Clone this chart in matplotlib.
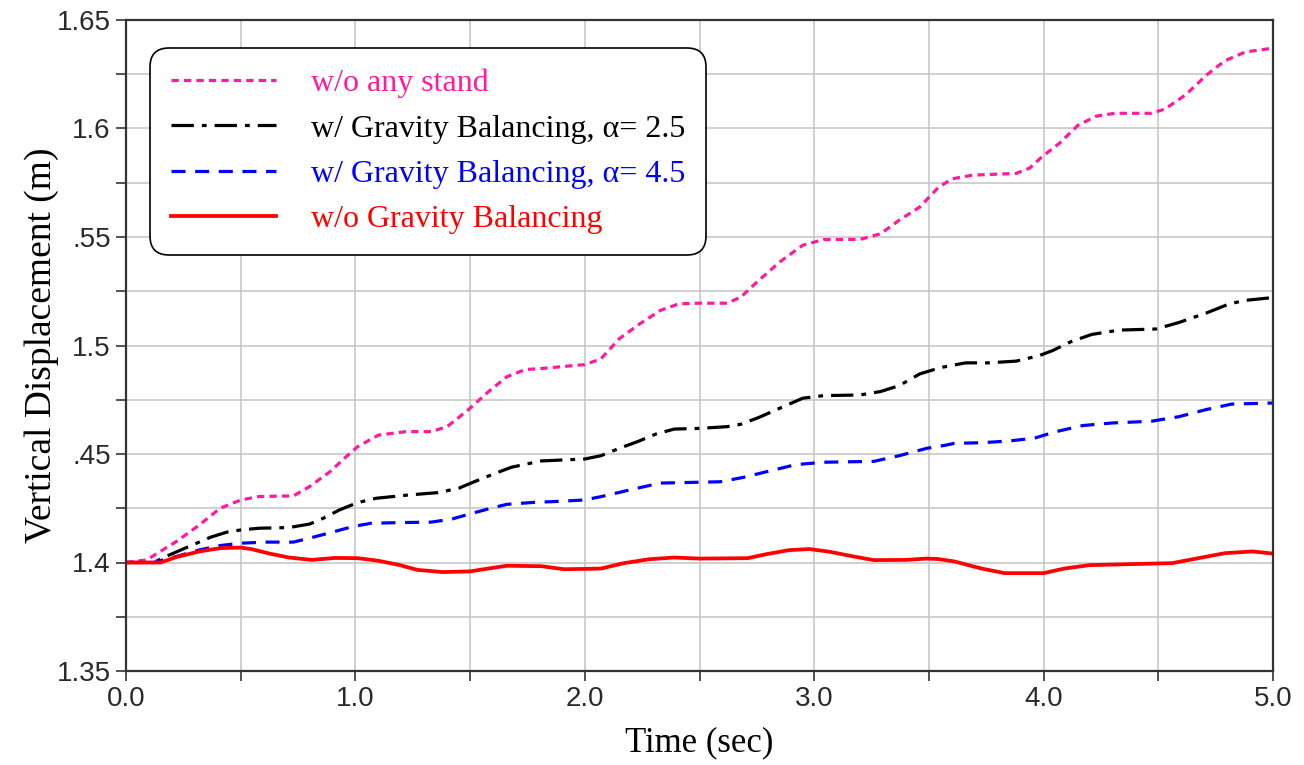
import matplotlib
matplotlib.use("Agg")
import matplotlib.pyplot as plt
from matplotlib.lines import Line2D

# time (s) / vertical displacement (m)
t_stand = [0.0, 0.09, 0.22, 0.32, 0.41, 0.50, 0.58, 0.73, 0.80, 0.89, 0.96, 1.01, 1.10, 1.22,
           1.33, 1.40, 1.49, 1.58, 1.66, 1.74, 1.81, 2.00, 2.07, 2.15, 2.24, 2.33, 2.41, 2.50,
           2.62, 2.68, 2.75, 2.85, 2.95, 3.04, 3.20, 3.29, 3.37, 3.46, 3.54, 3.60, 3.69, 3.88,
           3.94, 3.99, 4.07, 4.15, 4.23, 4.31, 4.47, 4.53, 4.62, 4.71, 4.79, 4.88, 5.00]
y_stand = [1.4000, 1.4012, 1.4097, 1.4173, 1.4250, 1.4288, 1.4304, 1.4307, 1.4350, 1.4419,
           1.4488, 1.4534, 1.4587, 1.4603, 1.4603, 1.4626, 1.4702, 1.4787, 1.4856, 1.4889,
           1.4894, 1.4912, 1.4938, 1.5031, 1.5100, 1.5162, 1.5192, 1.5195, 1.5195, 1.5223,
           1.5292, 1.5385, 1.5462, 1.5488, 1.5489, 1.5515, 1.5577, 1.5638, 1.5727, 1.5768,
           1.5785, 1.5793, 1.5818, 1.5867, 1.5933, 1.6015, 1.6057, 1.6070, 1.6070, 1.6090,
           1.6156, 1.6246, 1.6312, 1.6353, 1.6370]

t_a25 = [0.0, 0.12, 0.19, 0.29, 0.37, 0.44, 0.50, 0.58, 0.71, 0.80, 0.86, 0.93, 1.01, 1.09,
         1.23, 1.36, 1.45, 1.52, 1.61, 1.68, 1.81, 2.00, 2.07, 2.15, 2.23, 2.31, 2.39, 2.50,
         2.62, 2.68, 2.76, 2.85, 2.95, 3.04, 3.20, 3.29, 3.37, 3.46, 3.55, 3.66, 3.76, 3.88,
         3.98, 4.04, 4.12, 4.21, 4.33, 4.49, 4.59, 4.71, 4.81, 4.88, 5.00]
y_a25 = [1.4000, 1.4000, 1.4035, 1.4081, 1.4117, 1.4140, 1.4150, 1.4158, 1.4161, 1.4177,
         1.4204, 1.4242, 1.4276, 1.4296, 1.4311, 1.4322, 1.4342, 1.4373, 1.4411, 1.4439,
         1.4468, 1.4477, 1.4492, 1.4526, 1.4557, 1.4592, 1.4615, 1.4618, 1.4626, 1.4637,
         1.4669, 1.4711, 1.4757, 1.4769, 1.4772, 1.4788, 1.4815, 1.4869, 1.4898, 1.4920,
         1.4920, 1.4928, 1.4953, 1.4977, 1.5018, 1.5051, 1.5071, 1.5076, 1.5106, 1.5150,
         1.5192, 1.5208, 1.5221]

t_a45 = [0.0, 0.12, 0.22, 0.32, 0.41, 0.50, 0.61, 0.73, 0.81, 0.90, 0.99, 1.07, 1.20, 1.33,
         1.42, 1.50, 1.59, 1.66, 1.79, 1.85, 2.00, 2.09, 2.21, 2.33, 2.46, 2.59, 2.69, 2.81,
         2.92, 3.04, 3.26, 3.37, 3.49, 3.57, 3.61, 3.73, 3.85, 3.96, 4.05, 4.17, 4.30, 4.47,
         4.59, 4.71, 4.82, 5.00]
y_a45 = [1.4000, 1.4000, 1.4028, 1.4058, 1.4078, 1.4089, 1.4094, 1.4094, 1.4115, 1.4140,
         1.4166, 1.4181, 1.4184, 1.4186, 1.4200, 1.4224, 1.4250, 1.4268, 1.4278, 1.4280,
         1.4288, 1.4308, 1.4338, 1.4366, 1.4369, 1.4372, 1.4392, 1.4423, 1.4451, 1.4462,
         1.4466, 1.4492, 1.4526, 1.4540, 1.4549, 1.4552, 1.4560, 1.4573, 1.4602, 1.4631,
         1.4643, 1.4651, 1.4672, 1.4705, 1.4730, 1.4735]

t_nogb = [0.0, 0.15, 0.22, 0.32, 0.41, 0.50, 0.55, 0.63, 0.71, 0.81, 0.91, 1.01, 1.10, 1.19,
          1.27, 1.38, 1.50, 1.59, 1.66, 1.81, 1.91, 2.07, 2.17, 2.28, 2.39, 2.50, 2.71, 2.79,
          2.89, 2.98, 3.07, 3.17, 3.26, 3.40, 3.49, 3.54, 3.61, 3.73, 3.83, 4.00, 4.09, 4.20,
          4.36, 4.56, 4.68, 4.79, 4.91, 5.00]
y_nogb = [1.4000, 1.4000, 1.4025, 1.4051, 1.4066, 1.4069, 1.4061, 1.4040, 1.4023, 1.4012,
          1.4021, 1.4020, 1.4008, 1.3989, 1.3966, 1.3956, 1.3959, 1.3974, 1.3985, 1.3983,
          1.3969, 1.3972, 1.3997, 1.4015, 1.4023, 1.4018, 1.4020, 1.4038, 1.4057, 1.4062,
          1.4049, 1.4028, 1.4011, 1.4012, 1.4018, 1.4016, 1.4005, 1.3972, 1.3951, 1.3951,
          1.3972, 1.3988, 1.3992, 1.3997, 1.4021, 1.4043, 1.4051, 1.4041]

labels = ["w/o any stand",
          "w/ Gravity Balancing, \u03b1= 2.5",
          "w/ Gravity Balancing, \u03b1= 4.5",
          "w/o Gravity Balancing"]

x_ticks = [0, 1, 2, 3, 4, 5]
x_ticklabels = ["0.0", "1.0", "2.0", "3.0", "4.0", "5.0"]
y_ticks = [1.35, 1.40, 1.45, 1.50, 1.55, 1.60, 1.65]
y_ticklabels = ["1.35", "1.4", ".45", "1.5", ".55", "1.6", "1.65"]

pink = "#ff1aa0"
serif = ["Liberation Serif", "DejaVu Serif"]
sans = ["Liberation Sans", "DejaVu Sans"]

fig = plt.figure(figsize=(13.04, 7.65), dpi=100)
ax = fig.add_axes([126 / 1304, 1 - 671 / 765, (1273 - 126) / 1304, (671 - 20) / 765])

lw = 2.3
ax.plot(t_stand, y_stand, color=pink, lw=lw, ls=(0, (2.3, 1.6)))
ax.plot(t_a25, y_a25, color="black", lw=lw, ls=(0, (7, 2.5, 1.5, 2.5)))
ax.plot(t_a45, y_a45, color="#0000ff", lw=lw, ls=(0, (4.4, 3)))
ax.plot(t_nogb, y_nogb, color="#ff0000", lw=lw + 0.4, ls="-")

ax.set_xlim(0, 5)
ax.set_ylim(1.35, 1.65)
ax.set_xticks(x_ticks)
ax.set_xticklabels(x_ticklabels)
ax.set_xticks([0.5, 1.5, 2.5, 3.5, 4.5], minor=True)
ax.set_yticks(y_ticks)
ax.set_yticklabels(y_ticklabels)
ax.set_yticks([1.375, 1.425, 1.475, 1.525, 1.575, 1.625], minor=True)

ax.grid(True, which="both", color="#c8c8c8", lw=1.2)
ax.set_axisbelow(True)
ax.tick_params(which="both", direction="out", length=7, width=1.2, color="#333333")
ax.tick_params(axis="both", labelsize=20, labelcolor="#2a2a2a", pad=4)
for lab in ax.get_xticklabels() + ax.get_yticklabels():
    lab.set_family(sans)
for s in ax.spines.values():
    s.set_color("#333333")
    s.set_linewidth(1.6)

ax.set_xlabel("Time (sec)", family=serif, fontsize=25, labelpad=10)
ax.set_ylabel("Vertical Displacement (m)", family=serif, fontsize=27)
ax.yaxis.set_label_coords(-0.058, 0.5)

handles = [Line2D([], [], color=pink, lw=lw, ls=(0, (2.3, 1.6))),
           Line2D([], [], color="black", lw=lw, ls=(0, (7, 2.5, 1.5, 2.5))),
           Line2D([], [], color="#0000ff", lw=lw, ls=(0, (4.4, 3))),
           Line2D([], [], color="#ff0000", lw=lw + 0.4)]
leg = ax.legend(handles, labels, loc="upper left",
                bbox_to_anchor=((150 - 126) / 1147, (671 - 48) / 651),
                borderaxespad=0, prop={"family": serif, "size": 23},
                labelcolor="linecolor", frameon=True, fancybox=True,
                framealpha=1, edgecolor="black", handlelength=3.3,
                handletextpad=1.1, labelspacing=0.5, borderpad=0.65)
leg.get_frame().set_linewidth(1.2)
leg.get_frame().set_boxstyle("round", pad=0, rounding_size=0.6)

fig.savefig("out.png", dpi=100)
